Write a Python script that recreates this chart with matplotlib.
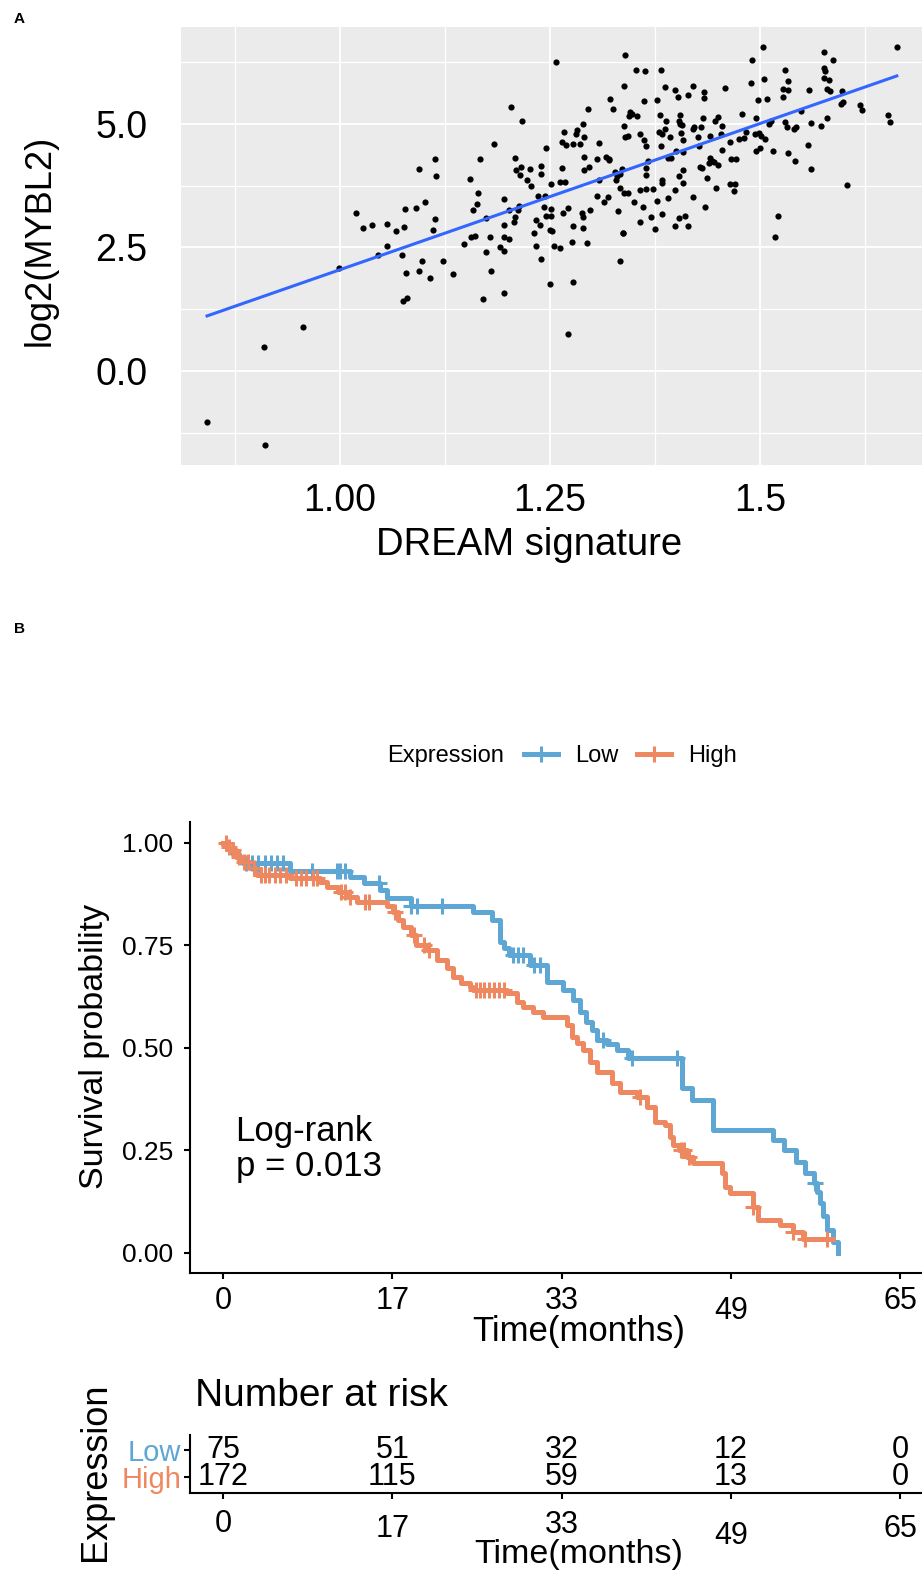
import numpy as np
import matplotlib
matplotlib.use('Agg')
import matplotlib.pyplot as plt
from matplotlib.lines import Line2D

plt.rcParams['font.family'] = ['Liberation Sans', 'DejaVu Sans']
NARROW = ['Liberation Sans Narrow', 'Liberation Sans', 'DejaVu Sans']

# ---- panel A: DREAM signature vs log2(MYBL2)
dream_x = [
    1.257, 1.204, 1.217, 1.267, 1.264, 1.269, 1.245, 1.183, 1.209, 1.167,
    1.113, 1.094, 1.114, 1.210, 1.216, 1.226, 1.240, 1.240, 1.215, 1.223,
    1.228, 1.252, 1.264, 1.262, 1.268, 1.155, 1.165, 1.163, 1.159, 1.196,
    1.236, 1.244, 1.213, 1.212, 1.202, 1.209, 1.207, 1.196, 1.234, 1.238,
    1.231, 1.243, 1.251, 1.245, 1.252, 1.250, 1.253, 1.266, 1.272, 1.174,
    1.179, 1.195, 1.202, 1.156, 1.161, 1.101, 1.091, 1.078, 1.113, 1.111,
    1.077, 1.067, 1.056, 1.038, 1.028, 1.019,
    1.056, 1.046, 1.074, 1.098, 1.079, 1.094, 1.107, 1.123, 1.135, 1.075,
    1.080, 0.999, 1.148, 1.191, 1.195, 1.174, 1.180, 1.196, 1.170, 1.233,
    1.240, 1.255, 1.262, 1.250, 1.272, 0.956, 0.910, 0.842, 0.911,
    1.276, 1.294, 1.337, 1.334, 1.375, 1.518, 1.277,
    1.277, 1.281, 1.282, 1.286, 1.291, 1.290, 1.296, 1.308, 1.291, 1.297,
    1.291, 1.306, 1.317, 1.320, 1.321, 1.308, 1.306, 1.319, 1.314, 1.298,
    1.288, 1.290, 1.289, 1.278, 1.322, 1.325, 1.338, 1.340, 1.353, 1.363,
    1.382, 1.387, 1.399, 1.402, 1.414, 1.420, 1.434, 1.434, 1.458, 1.362,
    1.377, 1.345, 1.344, 1.348, 1.354, 1.338, 1.340, 1.343, 1.357, 1.362,
    1.364, 1.381, 1.388, 1.380, 1.383, 1.387, 1.393, 1.382, 1.405, 1.404,
    1.405, 1.407, 1.406, 1.408, 1.400, 1.391, 1.394, 1.409, 1.421, 1.422,
    1.430, 1.432, 1.426, 1.427, 1.441, 1.447, 1.450, 1.455, 1.454, 1.464,
    1.455, 1.479, 1.484, 1.481, 1.496, 1.494, 1.499, 1.501, 1.506, 1.500,
    1.495, 1.516, 1.511, 1.513, 1.475, 1.472, 1.466, 1.489, 1.491, 1.504,
    1.505, 1.498, 1.509, 1.530, 1.534, 1.527, 1.534, 1.528, 1.530, 1.532,
    1.543, 1.541, 1.549, 1.558, 1.561, 1.557, 1.561, 1.542, 1.533, 1.573,
    1.580, 1.576, 1.587, 1.576, 1.578, 1.576, 1.582, 1.580, 1.583, 1.598,
    1.597, 1.599, 1.619, 1.621, 1.604, 1.652, 1.655, 1.663, 1.522,
    1.435, 1.437, 1.448, 1.450, 1.441, 1.443, 1.439, 1.445, 1.429, 1.431,
    1.465, 1.470, 1.469, 1.420, 1.409, 1.408, 1.404, 1.399, 1.391, 1.384,
    1.384, 1.378, 1.384, 1.371, 1.364, 1.357, 1.361, 1.373, 1.364, 1.364,
    1.367, 1.357, 1.350, 1.343, 1.338, 1.334, 1.327, 1.330, 1.333, 1.336,
    1.329, 1.331, 1.337, 1.399, 1.404, 1.411, 1.414,
]
mybl2_y = [
    6.26, 5.34, 5.05, 4.84, 4.64, 4.57, 4.51, 4.60, 4.32, 4.29,
    4.28, 4.09, 3.95, 4.07, 4.13, 4.09, 4.14, 3.99, 3.96, 3.86,
    3.74, 3.79, 4.10, 3.82, 3.82, 3.88, 3.61, 3.37, 3.26, 3.49,
    3.54, 3.55, 3.33, 3.26, 3.26, 3.11, 3.01, 2.96, 3.05, 2.96,
    2.80, 3.31, 3.27, 3.14, 3.14, 2.86, 2.83, 3.20, 3.30, 3.09,
    2.71, 2.71, 2.67, 2.72, 2.74, 3.43, 3.30, 3.28, 3.07, 2.86,
    2.92, 2.84, 2.98, 2.95, 2.89, 3.20,
    2.53, 2.34, 2.34, 2.22, 1.99, 2.03, 1.89, 2.22, 1.97, 1.42,
    1.47, 2.08, 2.57, 2.50, 2.42, 2.41, 2.02, 1.58, 1.45, 2.53,
    2.27, 2.53, 2.48, 1.76, 0.74, 0.89, 0.49, -1.03, -1.50,
    2.62, 2.60, 2.80, 2.22, 2.87, 2.71, 1.80,
    4.59, 4.79, 4.88, 4.60, 4.73, 5.00, 5.30, 4.62, 4.33, 4.12,
    4.06, 4.29, 4.33, 4.28, 4.26, 3.87, 3.54, 3.52, 3.42, 3.25,
    3.19, 3.11, 2.89, 2.94, 5.50, 5.30, 5.76, 6.40, 6.09, 6.07,
    6.09, 5.74, 5.68, 5.55, 5.59, 5.76, 5.64, 5.53, 5.72, 5.47,
    5.49, 5.24, 5.16, 5.21, 5.16, 4.95, 4.73, 4.76, 4.80, 4.68,
    4.55, 5.18, 5.05, 4.84, 4.79, 4.89, 4.74, 4.55, 5.19, 5.05,
    4.99, 4.97, 4.82, 4.67, 4.46, 4.31, 4.32, 4.43, 4.90, 4.93,
    4.93, 5.12, 4.74, 4.55, 4.75, 5.05, 5.14, 4.96, 4.80, 4.63,
    4.48, 5.20, 4.84, 4.72, 5.11, 4.79, 4.82, 4.76, 4.70, 4.51,
    4.45, 4.45, 5.00, 5.05, 4.70, 4.29, 4.28, 5.83, 6.29, 6.56,
    5.91, 5.49, 5.50, 6.09, 5.86, 5.71, 5.68, 5.55, 5.04, 4.93,
    4.94, 4.89, 5.27, 5.68, 5.02, 4.57, 4.09, 4.25, 4.41, 4.95,
    5.12, 6.46, 6.30, 6.14, 6.07, 5.92, 5.89, 5.71, 5.66, 5.67,
    5.41, 5.45, 5.39, 5.28, 3.76, 5.18, 5.03, 6.55, 3.14,
    3.31, 3.91, 3.70, 4.16, 4.30, 4.24, 4.21, 4.22, 4.12, 4.10,
    3.79, 3.78, 3.64, 3.52, 3.80, 4.07, 3.95, 3.66, 3.50, 3.87,
    3.80, 3.44, 3.18, 3.12, 3.69, 3.67, 3.32, 3.69, 3.97, 4.11,
    4.24, 3.01, 3.43, 3.61, 3.61, 3.70, 4.03, 3.95, 3.99, 4.09,
    3.86, 3.24, 2.79, 2.93, 3.10, 3.14, 2.94,
]
# linear fit line ends, as drawn
fit_x = [0.842, 1.663]
fit_y = [1.115, 5.97]

# ---- panel B: Kaplan-Meier steps
low_time = [0, 0.5, 1.0, 1.5, 1.9, 6.4, 12.2, 13.5, 15.1, 15.7,
            18.0, 24.0, 25.8, 26.6, 27.0, 27.5, 29.5, 31.1, 32.6, 33.6,
            34.3, 34.8, 35.4, 35.9, 36.9, 37.8, 38.9, 44.1, 45.0, 47.0,
            52.8, 53.9, 55.0, 55.9, 56.7, 57.0, 57.3, 57.6, 58.0, 58.6, 59.0]
low_surv = [1.0, 0.987, 0.973, 0.96, 0.951, 0.932, 0.917, 0.902, 0.885, 0.866,
            0.846, 0.832, 0.812, 0.759, 0.744, 0.727, 0.702, 0.661, 0.641, 0.617,
            0.588, 0.563, 0.544, 0.52, 0.51, 0.495, 0.476, 0.402, 0.373, 0.30,
            0.276, 0.251, 0.222, 0.195, 0.171, 0.149, 0.122, 0.09, 0.056, 0.027, 0.0]
low_cens = [2.2, 2.8, 3.4, 4.0, 4.6, 5.2, 5.8, 8.5, 10.9, 11.2, 11.7, 15.0,
            18.0, 18.6, 21.0, 27.8, 28.3, 28.8, 29.9, 30.4, 36.5, 39.3, 43.6, 56.8]

high_time = [0, 0.4, 0.7, 1.2, 1.8, 2.6, 3.3, 6.4, 9.3, 10.0,
             11.0, 12.0, 12.9, 15.7, 16.3, 16.8, 17.3, 18.0, 18.5, 19.6,
             20.5, 21.5, 22.1, 22.8, 23.7, 24.0, 27.3, 28.2, 28.8, 29.8,
             30.7, 33.0, 33.5, 34.0, 34.6, 35.2, 35.9, 37.3, 38.1, 39.7,
             40.7, 41.5, 42.4, 42.9, 43.2, 43.8, 44.5, 45.1, 47.9, 48.2,
             48.7, 50.9, 51.4, 53.5, 54.7, 55.7, 58.6]
high_surv = [1.0, 0.99, 0.983, 0.966, 0.954, 0.939, 0.922, 0.915, 0.905, 0.893,
             0.88, 0.868, 0.856, 0.846, 0.832, 0.812, 0.795, 0.776, 0.751, 0.739,
             0.715, 0.695, 0.673, 0.659, 0.649, 0.641, 0.634, 0.612, 0.600, 0.588,
             0.576, 0.556, 0.527, 0.512, 0.495, 0.465, 0.442, 0.415, 0.393, 0.380,
             0.356, 0.320, 0.312, 0.283, 0.263, 0.251, 0.234, 0.220, 0.195, 0.161,
             0.146, 0.112, 0.080, 0.068, 0.051, 0.034, 0.034]
high_cens = [0.3, 0.6, 1.0, 1.5, 2.0, 2.4, 3.0, 3.6, 4.0, 4.4, 5.0, 5.5, 6.0,
             7.0, 7.5, 8.0, 8.6, 9.0, 11.3, 11.7, 12.2, 13.6, 14.0, 16.5, 18.3,
             19.3, 19.8, 24.3, 24.7, 25.1, 25.5, 26.0, 26.5, 27.0, 40.0, 44.0,
             44.3, 44.7, 50.9, 54.7, 55.9, 58.0]

time_ticks = [0, 16.25, 32.5, 48.75, 65]
time_labels = ['0', '17', '33', '49', '65']
risk_low = [75, 51, 32, 12, 0]
risk_high = [172, 115, 59, 13, 0]

BLUE = '#5EA6D3'
ORANGE = '#EE8860'

W, H = 922, 1573
fig = plt.figure(figsize=(W / 100, H / 100), dpi=100)


def fx(px):
    return px / W


def fy(py):
    return 1 - py / H


def surv_at(times, surv, t):
    i = np.searchsorted(times, t, side='right') - 1
    return np.asarray(surv)[i]


# ---------------- panel A
axA = fig.add_axes([fx(181), fy(465), (W - 181) / W, (465 - 27) / H])
axA.set_facecolor('#EBEBEB')
axA.scatter(dream_x, mybl2_y, s=20, c='black', lw=0, zorder=3)
axA.plot(fit_x, fit_y, color='#3366FF', lw=2.2, zorder=4)
axA.set_xlim(0.811, 1.693)
axA.set_ylim(-1.90, 6.96)
axA.set_xticks([1.0, 1.25, 1.5])
axA.set_xticklabels(['1.00', '1.25', '1.5'])
axA.set_xticks([0.875, 1.125, 1.375, 1.625], minor=True)
axA.set_yticks([0, 2.5, 5.0])
axA.set_yticklabels(['0.0', '2.5', '5.0'])
axA.set_yticks([-1.25, 1.25, 3.75, 6.25], minor=True)
axA.grid(which='major', color='white', lw=1.3)
axA.grid(which='minor', color='white', lw=0.9)
axA.set_axisbelow(True)
for sp in axA.spines.values():
    sp.set_visible(False)
axA.tick_params(which='both', length=0, labelsize=27)
axA.tick_params(axis='x', pad=13)
axA.tick_params(axis='y', pad=24)
fig.text(fx(40), fy(240), 'log2(MYBL2)', rotation=90, fontsize=26,
         ha='center', va='center')
fig.text(fx(529), fy(545), 'DREAM signature', fontsize=27.5,
         ha='center', va='center')
fig.text(fx(14), fy(19), 'A', fontsize=11, fontweight='bold', va='center')
fig.text(fx(14), fy(629), 'B', fontsize=11, fontweight='bold', va='center')

# ---------------- panel B: survival curves
axB = fig.add_axes([fx(190), fy(1273), (W - 190) / W, (1273 - 822) / H])
axB.step(low_time, low_surv, where='post', color=BLUE, lw=3.6, zorder=3)
axB.step(high_time, high_surv, where='post', color=ORANGE, lw=3.6, zorder=3)
axB.plot(low_cens, surv_at(low_time, low_surv, low_cens), ls='none',
         marker='+', ms=12, mew=2.2, color=BLUE, zorder=4)
axB.plot(high_cens, surv_at(high_time, high_surv, high_cens), ls='none',
         marker='+', ms=12, mew=2.2, color=ORANGE, zorder=4)
axB.set_xlim(-3.17, 67.1)
axB.set_ylim(-0.0488, 1.0512)
axB.set_yticks([0, 0.25, 0.5, 0.75, 1.0])
axB.set_yticklabels(['0.00', '0.25', '0.50', '0.75', '1.00'])
axB.set_xticks(time_ticks)
axB.set_xticklabels(time_labels)
for s in ['top', 'right']:
    axB.spines[s].set_visible(False)
for s in ['left', 'bottom']:
    axB.spines[s].set_linewidth(1.5)
axB.tick_params(length=4.3, width=1.5)
axB.tick_params(axis='y', labelsize=19, pad=8)
axB.tick_params(axis='x', labelsize=22, pad=5)
for lab in axB.get_xticklabels():
    lab.set_family(NARROW)
axB.xaxis.get_major_ticks()[3].set_pad(12)
axB.text(1.2, 0.254, 'Log-rank\np = 0.013', fontsize=25, ha='left',
         va='center', linespacing=1.1)
fig.text(fx(95), fy(1046), 'Survival probability', rotation=90, fontsize=24.5,
         ha='center', va='center')
fig.text(fx(579), fy(1331), 'Time(months)', fontsize=25, family=NARROW,
         ha='center', va='center')

# legend
fig.text(fx(446), fy(756), 'Expression', fontsize=17, ha='center', va='center')
handles = [Line2D([], [], color=BLUE, lw=3.6, marker='+', ms=12, mew=2.2),
           Line2D([], [], color=ORANGE, lw=3.6, marker='+', ms=12, mew=2.2)]
fig.legend(handles, ['Low', 'High'], loc='center left',
           bbox_to_anchor=(fx(524), fy(756)), ncol=2, frameon=False,
           fontsize=17, handlelength=1.45, handletextpad=0.7,
           columnspacing=0.8, borderpad=0, borderaxespad=0)

# ---------------- risk table
axR = fig.add_axes([fx(190), fy(1493), (W - 190) / W, (1493 - 1435) / H])
axR.set_xlim(-3.17, 67.1)
axR.set_ylim(-0.59, 1.56)
for t, nl, nh in zip(time_ticks, risk_low, risk_high):
    axR.text(t, 1, str(nl), ha='center', va='center', fontsize=22, family=NARROW)
    axR.text(t, 0, str(nh), ha='center', va='center', fontsize=22, family=NARROW)
axR.set_yticks([1, 0])
axR.set_yticklabels(['Low', 'High'])
for lab, c in zip(axR.get_yticklabels(), [BLUE, ORANGE]):
    lab.set_color(c)
    lab.set_family(NARROW)
axR.set_xticks(time_ticks)
axR.set_xticklabels(time_labels)
for lab in axR.get_xticklabels():
    lab.set_family(NARROW)
for s in ['top', 'right']:
    axR.spines[s].set_visible(False)
for s in ['left', 'bottom']:
    axR.spines[s].set_linewidth(1.5)
axR.tick_params(length=4.3, width=1.5)
axR.tick_params(axis='y', labelsize=21, pad=2)
axR.tick_params(axis='x', labelsize=22, pad=8)
for tk, extra in zip(axR.xaxis.get_major_ticks(), [0, 4, 1, 9, 4]):
    tk.set_pad(7 + extra)
fig.text(fx(195), fy(1396), 'Number at risk', fontsize=28, family=NARROW,
         ha='left', va='center')
fig.text(fx(95), fy(1472), 'Expression', rotation=90, fontsize=26,
         ha='center', va='center')
fig.text(fx(579), fy(1555), 'Time(months)', fontsize=24.5, family=NARROW,
         ha='center', va='center')

fig.savefig('out.png', dpi=100)
